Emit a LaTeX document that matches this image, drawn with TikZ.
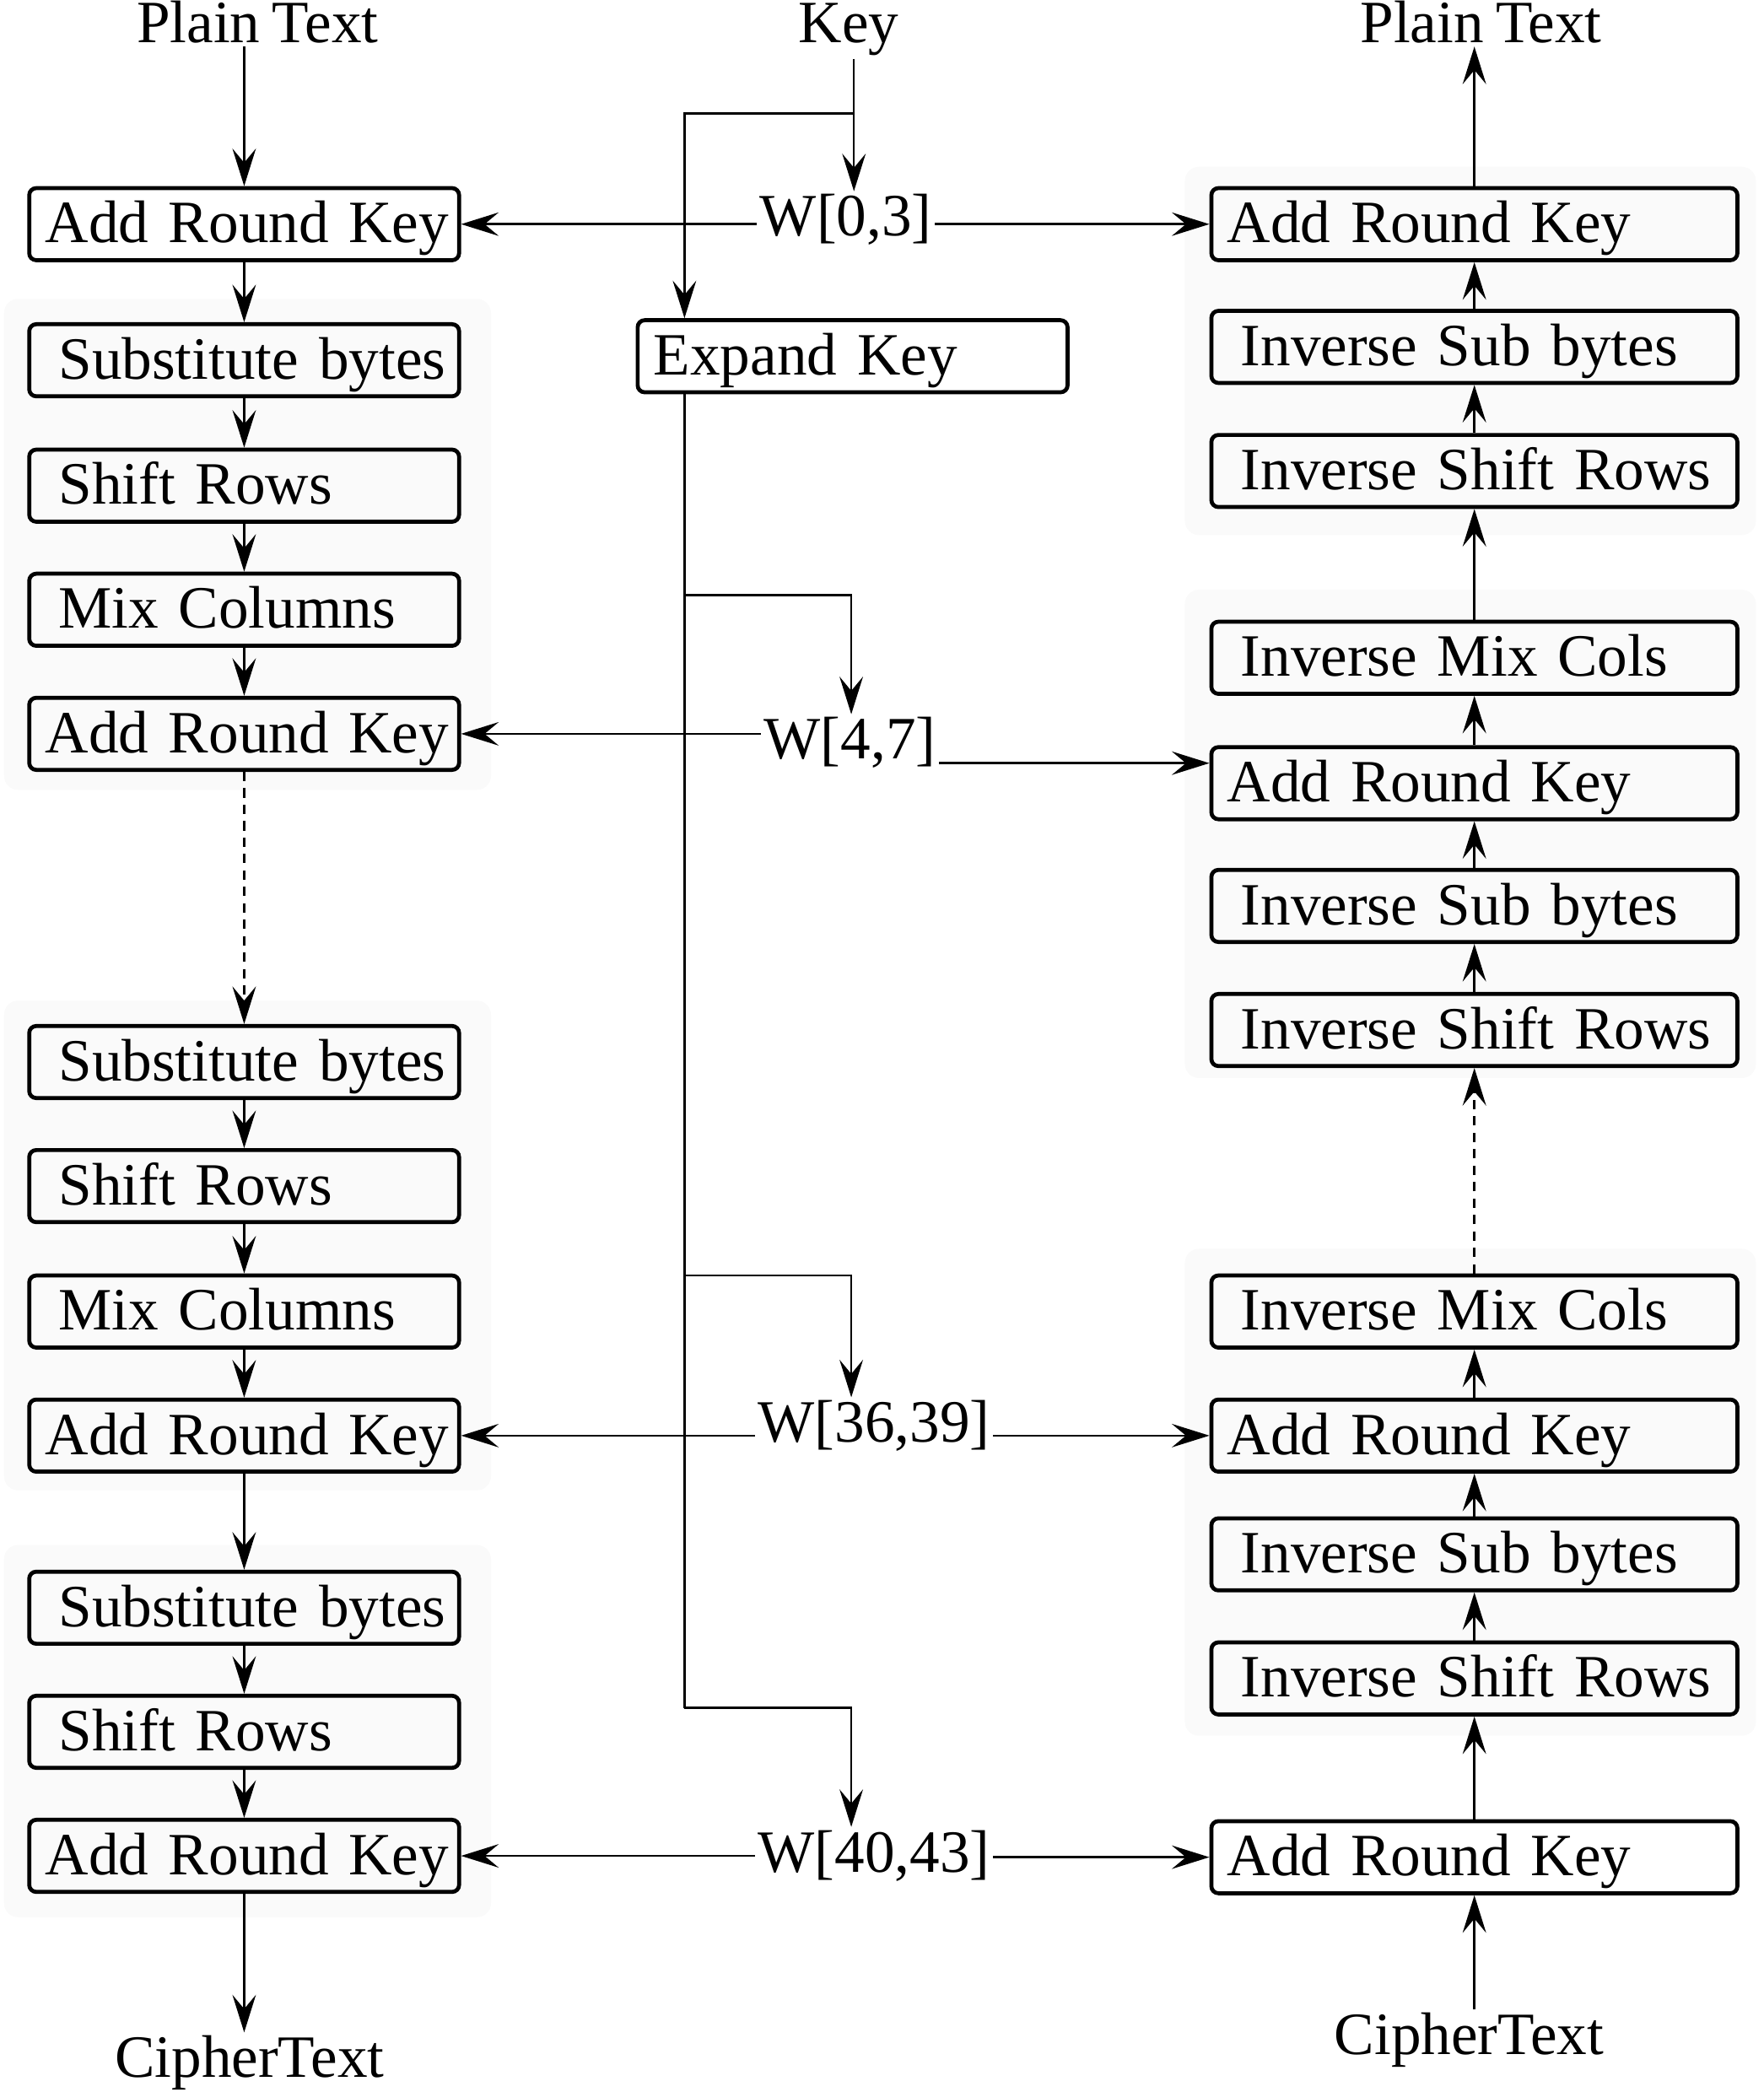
\documentclass[tikz,border=0pt]{standalone}
\usepackage{fontspec}
\setmainfont[WordSpace = 0.8]{Liberation Serif}
\usetikzlibrary{arrows.meta}

\begin{document}
\begin{tikzpicture}[x = 0.01cm, y = -0.01cm, font = \fontsize{12.8}{15}\selectfont]
\tikzstyle{BoxStyle}=[draw, line width = 0.85pt, rounded corners = 1.5pt,
                      text width = 3.1cm, align = left,
                      inner xsep = 0.06cm, inner ysep = 0.01cm,
                      execute at begin node = \hspace*{0.06cm},
                      minimum height = 0.54cm, text height = 0.38cm, text depth = 0.1cm]
\tikzstyle{DecStyle}=[BoxStyle, text width = 3.82cm]
\tikzstyle{LabelStyle}=[inner sep = 0.5pt, anchor = base]
\tikzstyle{GroupStyle}=[fill = black!2, rounded corners = 3pt]
\tikzstyle{FlowStyle}=[-{Stealth[length = 8pt, width = 5pt, inset = 3pt]}, line width = 0.45pt]
\tikzstyle{SkipStyle}=[FlowStyle, dash pattern = on 2pt off 1.5pt]
\useasboundingbox (0,0) rectangle (1322,1568);
% round groups
\fill[GroupStyle] (3,224) rectangle (368,592);
\fill[GroupStyle] (3,750) rectangle (368,1117);
\fill[GroupStyle] (3,1158) rectangle (368,1437);
\fill[GroupStyle] (888,125) rectangle (1316,401);
\fill[GroupStyle] (888,442) rectangle (1316,808);
\fill[GroupStyle] (888,936) rectangle (1316,1301);
% labels
\node[LabelStyle] (ptl) at (193,32) {Plain Text};
\node[LabelStyle] (key) at (636,32) {Key};
\node[LabelStyle] (ptr) at (1110,32) {Plain Text};
\node[LabelStyle] (ctl) at (187,1557) {CipherText};
\node[LabelStyle] (ctr) at (1101,1540) {CipherText};
\node[LabelStyle] (w0) at (634,177) {W[0,3]};
\node[LabelStyle] (w1) at (637,569) {W[4,7]};
\node[LabelStyle] (w2) at (655,1081) {W[36,39]};
\node[LabelStyle] (w3) at (655,1403) {W[40,43]};
% encryption
\node[BoxStyle] (l1) at (183,168) {Add Round Key};
\node[BoxStyle] (l2) at (183,270) {\hspace*{0.1cm}Substitute bytes};
\node[BoxStyle] (l3) at (183,364) {\hspace*{0.1cm}Shift Rows};
\node[BoxStyle] (l4) at (183,457) {\hspace*{0.1cm}Mix Columns};
\node[BoxStyle] (l5) at (183,550) {Add Round Key};
\node[BoxStyle] (l6) at (183,796) {\hspace*{0.1cm}Substitute bytes};
\node[BoxStyle] (l7) at (183,889) {\hspace*{0.1cm}Shift Rows};
\node[BoxStyle] (l8) at (183,983) {\hspace*{0.1cm}Mix Columns};
\node[BoxStyle] (l9) at (183,1076) {Add Round Key};
\node[BoxStyle] (l10) at (183,1205) {\hspace*{0.1cm}Substitute bytes};
\node[BoxStyle] (l11) at (183,1298) {\hspace*{0.1cm}Shift Rows};
\node[BoxStyle] (l12) at (183,1391) {Add Round Key};
% key schedule
\node[BoxStyle] (ek) at (639,267) {Expand Key};
% decryption
\node[DecStyle] (r1) at (1105,168) {Add Round Key};
\node[DecStyle] (r2) at (1105,260) {\hspace*{0.1cm}Inverse Sub bytes};
\node[DecStyle] (r3) at (1105,353) {\hspace*{0.1cm}Inverse Shift Rows};
\node[DecStyle] (r4) at (1105,493) {\hspace*{0.1cm}Inverse Mix Cols};
\node[DecStyle] (r5) at (1105,587) {Add Round Key};
\node[DecStyle] (r6) at (1105,679) {\hspace*{0.1cm}Inverse Sub bytes};
\node[DecStyle] (r7) at (1105,772) {\hspace*{0.1cm}Inverse Shift Rows};
\node[DecStyle] (r8) at (1105,983) {\hspace*{0.1cm}Inverse Mix Cols};
\node[DecStyle] (r9) at (1105,1076) {Add Round Key};
\node[DecStyle] (r10) at (1105,1165) {\hspace*{0.1cm}Inverse Sub bytes};
\node[DecStyle] (r11) at (1105,1258) {\hspace*{0.1cm}Inverse Shift Rows};
\node[DecStyle] (r12) at (1105,1392) {Add Round Key};
% encryption flow
\draw[FlowStyle] (ptl.south -| l1.north) -- (l1.north);
\foreach \a/\b in {l1/l2, l2/l3, l3/l4, l4/l5, l6/l7, l7/l8, l8/l9, l9/l10, l10/l11, l11/l12}
  \draw[FlowStyle] (\a.south) -- (\b.north);
\draw[SkipStyle] (l5.south) -- (l6.north);
\draw[FlowStyle] (l12.south) -- (l12.south |- ctl.north);
% decryption flow
\draw[FlowStyle] (ctr.north -| r12.south) -- (r12.south);
\foreach \a/\b in {r2/r1, r3/r2, r4/r3, r5/r4, r6/r5, r7/r6, r9/r8, r10/r9, r11/r10, r12/r11}
  \draw[FlowStyle] (\a.north) -- (\b.south);
\draw[SkipStyle] (r8.north) -- (r7.south);
\draw[FlowStyle] (r1.north) -- (r1.north |- ptr.south);
% key flow
\coordinate (kj) at (640,85);
\coordinate (kl) at (513,85);
\coordinate (kt) at (513,1280);
\draw[line width = 0.45pt] (key.south -| kj) -- (kj);
\draw[FlowStyle] (kj) -- (kj |- w0.north);
\draw[FlowStyle] (kj) -- (kl) -- (kl |- ek.north);
\draw[line width = 0.45pt] (kl |- ek.south) -- (kt);
\foreach \w/\yy in {w1/446, w2/956, w3/1280}{
  \coordinate (t\w) at (513,\yy);
  \coordinate (b\w) at (638,\yy);
  \draw[FlowStyle] (t\w) -- (b\w) -- (b\w |- \w.north);
}
% round keys
\coordinate (r5in) at ([yshift = 0.15cm]r5.west);
\draw[FlowStyle] (w0.west |- l1) -- (l1.east);
\draw[FlowStyle] (w0.east |- r1) -- (r1.west);
\draw[FlowStyle] (w1.west |- l5) -- (l5.east);
\draw[FlowStyle] (w1.east |- r5in) -- (r5in);
\draw[FlowStyle] (w2.west |- l9) -- (l9.east);
\draw[FlowStyle] (w2.east |- r9) -- (r9.west);
\draw[FlowStyle] (w3.west |- l12) -- (l12.east);
\draw[FlowStyle] (w3.east |- r12) -- (r12.west);
\end{tikzpicture}
\end{document}
